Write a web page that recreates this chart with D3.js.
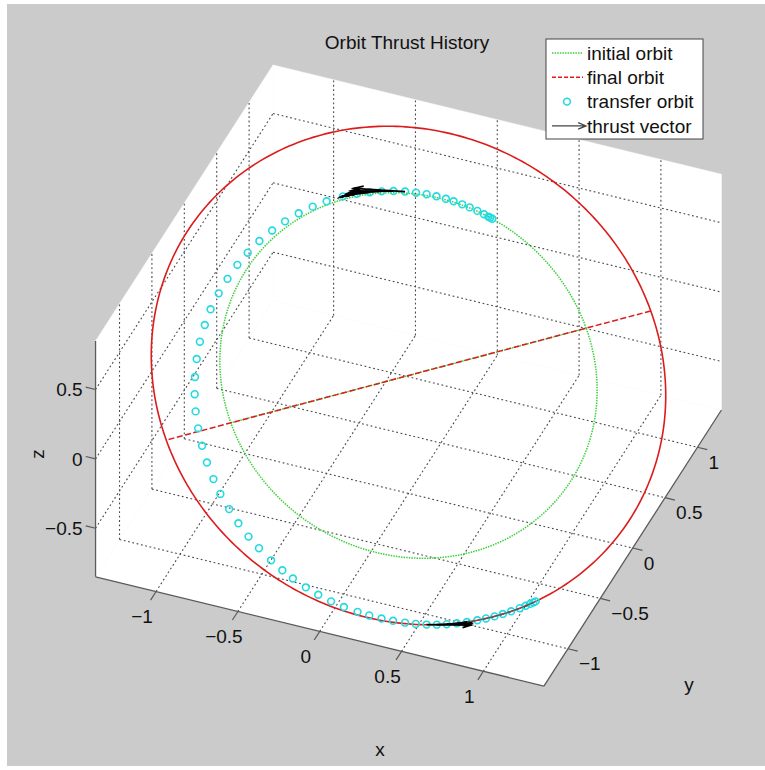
<!DOCTYPE html>
<html>
<head>
<meta charset="utf-8">
<script src="https://cdn.jsdelivr.net/npm/d3@7"></script>
<style>
  body { margin: 0; background: #fff; }
  text { font-family: "Liberation Sans", Arial, Helvetica, sans-serif; fill: #111; }
</style>
</head>
<body>
<div id="chart"></div>
<script>
// axes limits + ticks
const xLim = [-1.37, 1.37], yLim = [-1.37, 1.37], zLim = [-0.85, 0.85];
const xTicks = [-1, -0.5, 0, 0.5, 1];
const yTicks = [-1, -0.5, 0, 0.5, 1];
const zTicks = [-0.5, 0, 0.5];

// orbit plane (deg) and orbit radii
const nodeAngle = 45, inclination = 34.5;
const initialRadius = 1.1, finalRadius = 1.5;

// transfer orbit samples: angle from node (deg) and radius
const transferAnom = [44.0, 44.7, 45.3, 46.8, 49.0, 51.5, 53.9, 56.6, 59.0, 61.9, 64.9, 68.1,
  71.4, 74.9, 78.5, 82.1, 86.1, 90.4, 95.6, 100.2, 105.0, 109.9, 114.8, 119.9, 125.0, 129.9,
  135.1, 140.2, 145.5, 150.4, 155.4, 160.4, 165.4, 170.1, 174.7, 179.2, 183.8, 188.2, 192.6,
  196.6, 200.8, 204.8, 208.7, 212.3, 216.2, 219.6, 222.6, 226.1, 229.3, 232.5, 235.6, 238.8,
  241.5, 244.3, 246.9, 249.6, 252.0, 254.4, 256.7, 258.9, 261.2, 263.5, 265.9, 267.9, 269.9,
  271.9, 273.9, 276.0, 277.5, 278.6, 279.4, 280.0];
const transferRad = [1.100, 1.100, 1.100, 1.101, 1.102, 1.103, 1.104, 1.105, 1.106, 1.107, 1.108, 1.108,
  1.109, 1.110, 1.110, 1.111, 1.114, 1.118, 1.120, 1.123, 1.127, 1.131, 1.136, 1.143, 1.150, 1.158,
  1.167, 1.179, 1.194, 1.206, 1.221, 1.235, 1.250, 1.265, 1.281, 1.296, 1.312, 1.329, 1.345,
  1.360, 1.374, 1.389, 1.403, 1.414, 1.427, 1.438, 1.447, 1.456, 1.464, 1.471, 1.477, 1.481,
  1.485, 1.488, 1.491, 1.494, 1.497, 1.499, 1.500, 1.500, 1.500, 1.500, 1.500, 1.500, 1.500,
  1.500, 1.500, 1.500, 1.500, 1.500, 1.500, 1.500];

// thrust vectors: where (angle, radius) and length
const thrustAnom = [71.4, 74.9, 78.5, 82.1, 86.1, 254.4, 256.7, 258.9, 261.2,
  263.5, 265.9, 267.9, 269.9, 271.9, 273.9, 276.0, 277.5];
const thrustRad = [1.109, 1.110, 1.110, 1.111, 1.114, 1.499, 1.500, 1.500, 1.500,
  1.500, 1.500, 1.500, 1.500, 1.500, 1.500, 1.500, 1.500];
const thrustLen = [0.30, 0.25, 0.20, 0.15, 0.10, 0.26, 0.20, 0.14, 0.08,
  0.05, 0.05, 0.05, 0.05, 0.05, 0.05, 0.05, 0.05];

const legendItems = ["initial orbit", "final orbit", "transfer orbit", "thrust vector"];

const width = 765, height = 770;
const svg = d3.select("#chart").append("svg")
  .attr("width", width).attr("height", height);

svg.append("rect").attr("x", 7).attr("y", 4).attr("width", width - 7).attr("height", height - 8)
  .attr("fill", "#cbcbcb");

// 3D view (orthographic, like matlab view())
const S = 176, rad = Math.PI / 180;
const az = 21.6 * rad, el = 38 * rad;
const cx = 408.5, cy = 375.5;
const sx = d3.scaleLinear().domain(xLim).range(xLim.map(v => v * S));
const sy = d3.scaleLinear().domain(yLim).range(yLim.map(v => v * S));
const sz = d3.scaleLinear().domain(zLim).range(zLim.map(v => v * S));

function proj([x, y, z]) {
  const X = sx(x), Y = sy(y), Z = sz(z);
  return [cx + X * Math.cos(az) + Y * Math.sin(az),
          cy + (X * Math.sin(az) - Y * Math.cos(az)) * Math.sin(el) - Z * Math.cos(el)];
}
const line = d3.line().x(d => proj(d)[0]).y(d => proj(d)[1]);

// orbit plane basis
const Om = nodeAngle * rad, inc = inclination * rad;
const L = [Math.cos(Om), Math.sin(Om), 0];
const M = [-Math.sin(Om) * Math.cos(inc), Math.cos(Om) * Math.cos(inc), Math.sin(inc)];
const orbitPt = (th, r) => {
  const t = th * rad;
  return [0, 1, 2].map(k => r * (Math.cos(t) * L[k] + Math.sin(t) * M[k]));
};
const tangent = th => {
  const t = th * rad;
  return [0, 1, 2].map(k => -Math.sin(t) * L[k] + Math.cos(t) * M[k]);
};

// back planes
const [x0, x1] = xLim, [y0, y1] = yLim, [z0, z1] = zLim;
const faces = [
  [[x0, y0, z0], [x1, y0, z0], [x1, y1, z0], [x0, y1, z0]],
  [[x0, y1, z0], [x1, y1, z0], [x1, y1, z1], [x0, y1, z1]],
  [[x0, y0, z0], [x0, y1, z0], [x0, y1, z1], [x0, y0, z1]]
];
svg.append("g").selectAll("path").data(faces).join("path")
  .attr("d", d => line(d) + "Z").attr("fill", "#fff").attr("stroke", "#fff").attr("stroke-width", 0.5);

// grid
const grid = [];
xTicks.forEach(t => { grid.push([[t, y0, z0], [t, y1, z0]]); grid.push([[t, y1, z0], [t, y1, z1]]); });
yTicks.forEach(t => { grid.push([[x0, t, z0], [x1, t, z0]]); grid.push([[x0, t, z0], [x0, t, z1]]); });
zTicks.forEach(t => { grid.push([[x0, y1, t], [x1, y1, t]]); grid.push([[x0, y0, t], [x0, y1, t]]); });
svg.append("g").selectAll("path").data(grid).join("path")
  .attr("d", line).attr("fill", "none")
  .attr("stroke", "#4a4a4a").attr("stroke-width", 1.1).attr("stroke-dasharray", "1.8,2.6");

// orbits
const circ = r => d3.range(0, 360.5, 1).map(a => orbitPt(a, r));
const g = svg.append("g");
const green = "#3ccf3c", red = "#dc1c1c", cyan = "#22dae2";
g.append("path").attr("d", line([orbitPt(0, initialRadius), orbitPt(180, initialRadius)]))
  .attr("fill", "none").attr("stroke", green).attr("stroke-width", 1.5).attr("stroke-dasharray", "1.5,1.2");
g.append("path").attr("d", line(circ(initialRadius)))
  .attr("fill", "none").attr("stroke", green).attr("stroke-width", 1.5).attr("stroke-dasharray", "1.5,1.1");
g.append("path").attr("d", line([orbitPt(0, finalRadius), orbitPt(180, finalRadius)]))
  .attr("fill", "none").attr("stroke", red).attr("stroke-width", 1.5).attr("stroke-dasharray", "6,2.5");
g.append("path").attr("d", line(circ(finalRadius)))
  .attr("fill", "none").attr("stroke", red).attr("stroke-width", 1.6);

// transfer orbit markers
const transfer = transferAnom.map((a, i) => proj(orbitPt(a, transferRad[i])));
g.append("g").selectAll("circle").data(transfer).join("circle")
  .attr("cx", d => d[0]).attr("cy", d => d[1]).attr("r", 3.4)
  .attr("fill", "none").attr("stroke", cyan).attr("stroke-width", 1.6);

// thrust vectors (quiver style)
function arrowPath(p, q, frac, ang) {
  const dx = q[0] - p[0], dy = q[1] - p[1];
  const len = Math.hypot(dx, dy), a = Math.atan2(dy, dx);
  const h = Math.max(2.5, len * frac);
  const h1 = [q[0] - h * Math.cos(a - ang), q[1] - h * Math.sin(a - ang)];
  const h2 = [q[0] - h * Math.cos(a + ang), q[1] - h * Math.sin(a + ang)];
  return `M${p}L${q}M${h1}L${q}L${h2}`;
}
const thrust = thrustAnom.map((a, i) => {
  const p = orbitPt(a, thrustRad[i]), t = tangent(a);
  const q = p.map((v, k) => v + thrustLen[i] * t[k]);
  return { p: proj(p), q: proj(q), len: thrustLen[i] };
});
g.append("g").selectAll("path").data(thrust).join("path")
  .attr("d", d => arrowPath(d.p, d.q, 0.2, 0.3))
  .attr("fill", "none")
  .attr("stroke", d => d.len >= 0.08 ? "#000" : "#5a5a5a")
  .attr("stroke-width", d => d.len >= 0.08 ? 1.8 : 1.1);

// axis lines
const axes = [
  [[x0, y0, z0], [x1, y0, z0]],
  [[x1, y0, z0], [x1, y1, z0]],
  [[x0, y0, z0], [x0, y0, z1]]
];
svg.append("g").selectAll("path").data(axes).join("path")
  .attr("d", line).attr("stroke", "#5a5a5a").attr("stroke-width", 1.3);

// ticks + labels
const fmt = d => d3.format("")(d);
const tk = svg.append("g").attr("stroke", "#5a5a5a").attr("stroke-width", 1.2);
const lab = svg.append("g").attr("font-size", 19);

xTicks.forEach(t => {
  tk.append("path").attr("d", line([[t, y0, z0], [t, y0 - 0.085, z0]]));
  const p = proj([t, y0, z0]);
  lab.append("text").attr("x", p[0] - 14).attr("y", p[1] + 25).attr("dy", "0.35em")
    .attr("text-anchor", "middle").text(fmt(t));
});
yTicks.forEach(t => {
  tk.append("path").attr("d", line([[x1, t, z0], [x1 + 0.06, t, z0]]));
  const p = proj([x1, t, z0]);
  lab.append("text").attr("x", p[0] + 11).attr("y", p[1] + 15).attr("dy", "0.35em")
    .attr("text-anchor", "start").text(fmt(t));
});
zTicks.forEach(t => {
  tk.append("path").attr("d", line([[x0, y0, t], [x0 - 0.06, y0, t]]));
  const p = proj([x0, y0, t]);
  lab.append("text").attr("x", p[0] - 13).attr("y", p[1]).attr("dy", "0.35em")
    .attr("text-anchor", "end").text(fmt(t));
});

// axis names
lab.append("text").attr("x", 380).attr("y", 749).attr("dy", "0.35em").attr("text-anchor", "middle").text("x");
lab.append("text").attr("x", 689).attr("y", 684).attr("dy", "0.35em").attr("text-anchor", "middle").text("y");
lab.append("text").attr("transform", "translate(37,454) rotate(-90)").attr("dy", "0.35em")
  .attr("text-anchor", "middle").text("z");

// title
svg.append("text").attr("x", 407).attr("y", 49).attr("text-anchor", "middle")
  .attr("font-size", 19).text("Orbit Thrust History");

// legend
const lg = svg.append("g").attr("transform", "translate(546,39)");
lg.append("rect").attr("width", 157).attr("height", 100)
  .attr("fill", "#fff").attr("stroke", "#444").attr("stroke-width", 1);
const rowY = i => 14 + i * 24.3;
lg.selectAll("text").data(legendItems).join("text")
  .attr("x", 41).attr("y", (d, i) => rowY(i)).attr("dy", "0.35em")
  .attr("font-size", 19).text(d => d);
lg.append("line").attr("x1", 6).attr("x2", 37).attr("y1", rowY(0)).attr("y2", rowY(0))
  .attr("stroke", green).attr("stroke-width", 1.5).attr("stroke-dasharray", "1.5,1.1");
lg.append("line").attr("x1", 6).attr("x2", 37).attr("y1", rowY(1)).attr("y2", rowY(1))
  .attr("stroke", red).attr("stroke-width", 1.5).attr("stroke-dasharray", "4,2");
lg.append("circle").attr("cx", 21).attr("cy", rowY(2)).attr("r", 3.4)
  .attr("fill", "none").attr("stroke", cyan).attr("stroke-width", 1.6);
lg.append("path").attr("d", arrowPath([6, rowY(3)], [40, rowY(3)], 0.25, 0.4))
  .attr("fill", "none").attr("stroke", "#444").attr("stroke-width", 1.3);
</script>
</body>
</html>
